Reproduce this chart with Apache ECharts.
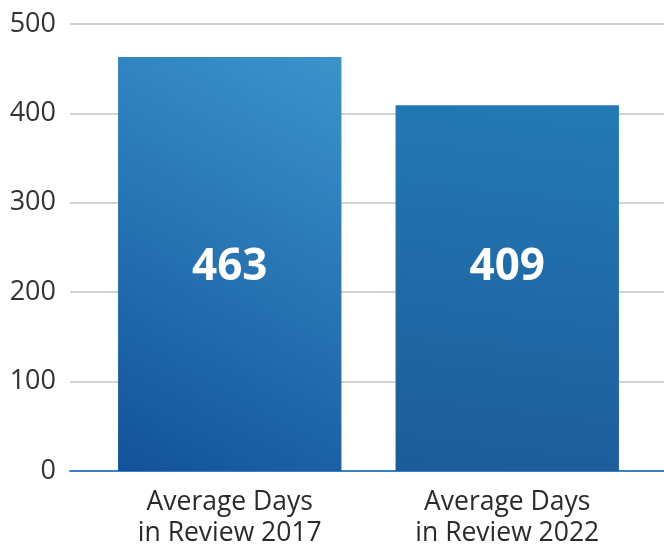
<!DOCTYPE html>
<html><head><meta charset="utf-8">
<script src="https://cdn.jsdelivr.net/npm/echarts@6/dist/echarts.min.js"></script>
<style>html,body{margin:0;padding:0;background:#fff}#c{width:664px;height:544px}</style>
</head><body><div id="c"></div>
<script>
var categories = ["Average Days\nin Review 2017", "Average Days\nin Review 2022"];
var values = [463, 409];
var yTicks = [0, 100, 200, 300, 400, 500];

var FONT = "'Open Sans', sans-serif";
var grad1 = new echarts.graphic.LinearGradient(1, 0, 0, 1, [
  {offset: 0, color: '#3b94cb'}, {offset: 1, color: '#12529a'}]);
var grad2 = new echarts.graphic.LinearGradient(0.6, 0, 0.4, 1, [
  {offset: 0, color: '#2379b4'}, {offset: 1, color: '#1d5c9b'}]);

var chart = echarts.init(document.getElementById('c'), null, {renderer: 'canvas'});
chart.setOption({
  animation: false,
  grid: [
    {left: 70, right: 0, top: 24, bottom: 73, containLabel: false, outerBoundsMode: 'none'},
    {left: 91, right: 18, top: 24, bottom: 73, containLabel: false, outerBoundsMode: 'none'}
  ],
  xAxis: [
    {type: 'category', gridIndex: 0, data: [''],
     axisLine: {lineStyle: {color: '#3a80c6', width: 2}},
     axisTick: {show: false}, axisLabel: {show: false}},
    {type: 'category', gridIndex: 1, data: categories,
     axisLine: {show: false}, axisTick: {show: false},
     axisLabel: {fontFamily: FONT, fontSize: 26.5, color: '#2b2b2b', lineHeight: 31, margin: 16}}
  ],
  yAxis: [
    {type: 'value', gridIndex: 0, min: yTicks[0], max: yTicks[yTicks.length - 1], interval: 100,
     axisLine: {show: false}, axisTick: {show: false},
     axisLabel: {fontFamily: FONT, fontSize: 27, color: '#333', margin: 14},
     splitLine: {lineStyle: {color: '#d3d3d3', width: 2}}},
    {type: 'value', gridIndex: 1, min: yTicks[0], max: yTicks[yTicks.length - 1], interval: 100,
     show: false}
  ],
  series: [{
    type: 'bar', xAxisIndex: 1, yAxisIndex: 1,
    barWidth: '80.5%',
    data: values.map(function (v, i) {
      return {value: v, itemStyle: {color: i === 0 ? grad1 : grad2}};
    }),
    label: {show: true, position: 'insideBottom', distance: 182,
      color: '#fff', fontFamily: FONT, fontWeight: 'bold', fontSize: 44}
  }]
});
</script></body></html>
